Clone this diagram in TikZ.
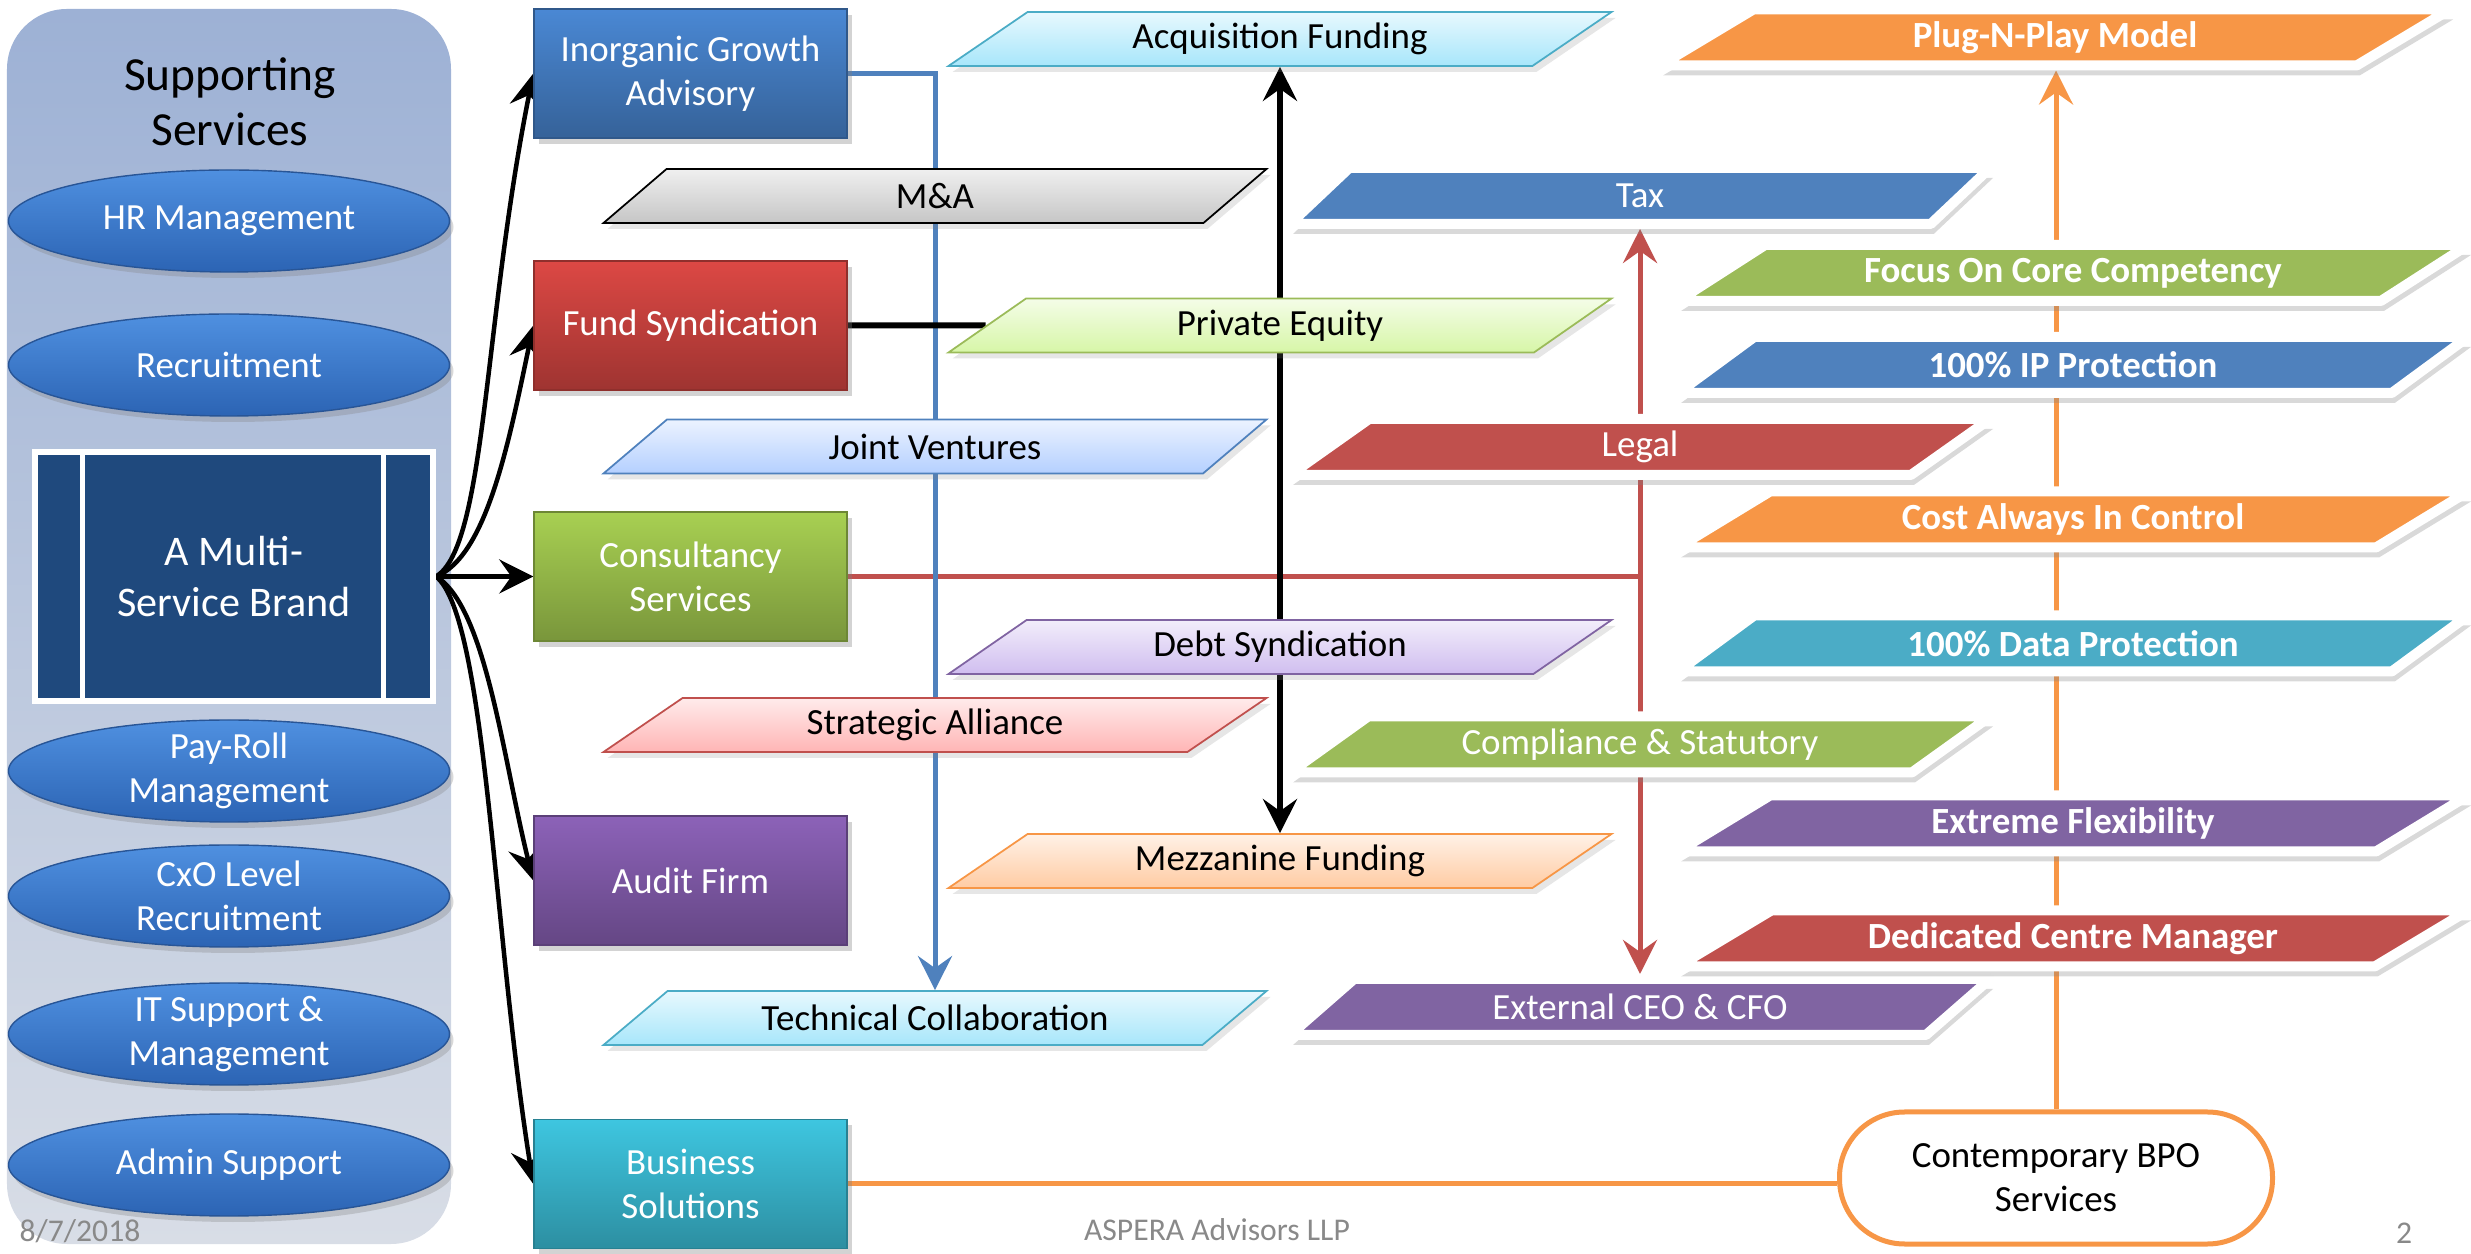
\documentclass[tikz,border=0pt]{standalone}
\usepackage{fontspec}
\setmainfont{Carlito}
\usetikzlibrary{shapes.geometric,shadows,arrows.meta,backgrounds}

\begin{document}
\begin{tikzpicture}[x=1mm, y=-1mm, font=\fontsize{10.5}{12.6}\selectfont,
		>={Stealth[length=3.4mm, width=3.4mm, inset=1.2mm]},
		oval/.style={ellipse, minimum width=44.1mm, minimum height=10.2mm, inner xsep=0pt, inner ysep=-1mm, align=center, text=white, top color=ovalTop, bottom color=ovalBot, draw=ovalLine, line width=0.4pt, drop shadow={opacity=0.3, shadow xshift=0.4mm, shadow yshift=-0.6mm}},
		svcbox/.style={rectangle, minimum width=31.3mm, minimum height=12.9mm, align=center, text=white, top color=#1, bottom color=#1!72!black, draw=#1!65!black, line width=0.4pt, drop shadow={opacity=0.35, shadow xshift=0.5mm, shadow yshift=-0.6mm}},
		lightpara/.style 2 args={trapezium, trapezium left angle=22, trapezium right angle=158, trapezium stretches body, minimum width=66.3mm, minimum height=5.4mm, inner sep=0pt, top color=#1!12!white, bottom color=#1!45!white, draw=#2, line width=0.5pt, drop shadow={opacity=0.2, shadow xshift=0.4mm, shadow yshift=-0.6mm}},
		solidpara/.style={trapezium, trapezium left angle=22, trapezium right angle=158, trapezium stretches body, minimum width=70mm, minimum height=5.6mm, inner sep=0pt, fill=#1, draw=white, line width=1mm, line join=round, text=white, drop shadow={opacity=0.3, shadow xshift=0.3mm, shadow yshift=-1mm}},
		boldpara/.style={solidpara=#1, trapezium left angle=19, trapezium right angle=161, minimum width=79mm, font=\fontsize{10.5}{12.6}\selectfont\bfseries},
		link/.style={draw=#1, line width=0.5mm}]
		
		% Define colors
		
		\definecolor{panelTop}{RGB}{157,177,213}
		\definecolor{panelBot}{RGB}{216,221,230}
		\definecolor{ovalTop}{RGB}{79,144,224}
		\definecolor{ovalBot}{RGB}{44,100,180}
		\definecolor{ovalLine}{RGB}{40,85,150}
		\definecolor{brandNavy}{RGB}{31,73,125}
		\definecolor{igaBlue}{RGB}{74,136,212}
		\definecolor{fundRed}{RGB}{220,72,68}
		\definecolor{consGreen}{RGB}{168,208,82}
		\definecolor{auditPurple}{RGB}{140,98,184}
		\definecolor{bizTeal}{RGB}{62,198,224}
		\definecolor{offBlue}{HTML}{4F81BD}
		\definecolor{offRed}{HTML}{C0504D}
		\definecolor{offGreen}{HTML}{9BBB59}
		\definecolor{offPurple}{HTML}{8064A2}
		\definecolor{offTeal}{HTML}{4BACC6}
		\definecolor{offOrange}{HTML}{F79646}
		\definecolor{jvBase}{RGB}{90,150,255}
		\definecolor{saBase}{RGB}{255,90,90}
		\definecolor{tcBase}{RGB}{60,200,245}
		\definecolor{peBase}{RGB}{165,235,60}
		\definecolor{dsBase}{RGB}{150,110,220}
		\definecolor{mfBase}{RGB}{255,140,50}
		\definecolor{footGray}{RGB}{137,137,137}
		
		\useasboundingbox (0,0) rectangle (247.1,125.4);
		
		% Supporting services panel
		
		\begin{scope}[on background layer]
			\node[rectangle, rounded corners=6mm, minimum width=44.4mm, minimum height=123.5mm, top color=panelTop, bottom color=panelBot] (supp) at (22.9,62.65) {};
		\end{scope}
		
		\node[align=center, font=\fontsize{13.5}{15.5}\selectfont] (supptitle) at (23,10.2) {Supporting\\Services};
		
		\node[oval] (hr) at (22.9,22.1) {HR Management};
		
		\node[oval] (recruit) at (22.9,36.5) {Recruitment};
		
		\node[oval] (payroll) at (22.9,77.1) {Pay-Roll\\Management};
		
		\node[oval] (cxo) at (22.9,89.6) {CxO Level\\Recruitment};
		
		\node[oval] (itsupport) at (22.9,103.4) {IT Support \&\\Management};
		
		\node[oval] (admin) at (22.9,116.5) {Admin Support};
		
		% The brand box with its two inner bars
		
		\node[rectangle, minimum width=39.8mm, minimum height=24.9mm, fill=brandNavy, draw=white, line width=0.6mm, text=white, align=center, font=\fontsize{12}{14.5}\selectfont] (msb) at (23.4,57.65) {A Multi-\\Service Brand};
		
		\draw[white, line width=0.5mm] ([xshift=5.1mm]msb.north west) -- ([xshift=5.1mm]msb.south west);
		
		\draw[white, line width=0.5mm] ([xshift=-5.3mm]msb.north east) -- ([xshift=-5.3mm]msb.south east);
		
		% Service boxes
		
		\node[svcbox=igaBlue] (iga) at (69.05,7.35) {Inorganic Growth\\Advisory};
		
		\node[svcbox=fundRed] (fund) at (69.05,32.55) {Fund Syndication};
		
		\node[svcbox=consGreen] (cons) at (69.05,57.65) {Consultancy\\Services};
		
		\node[svcbox=auditPurple] (audit) at (69.05,88.05) {Audit Firm};
		
		\node[svcbox=bizTeal] (biz) at (69.05,118.4) {Business\\Solutions};
		
		% Advisory and funding options
		
		\node[lightpara={gray}{black}] (ma) at (93.5,19.6) {M\&A};
		
		\node[lightpara={jvBase}{offBlue}] (jv) at (93.5,44.65) {Joint Ventures};
		
		\node[lightpara={saBase}{offRed}] (sa) at (93.5,72.5) {Strategic Alliance};
		
		\node[lightpara={tcBase}{offTeal}] (tc) at (93.5,101.8) {Technical Collaboration};
		
		\node[lightpara={tcBase}{offTeal}] (af) at (128,3.9) {Acquisition Funding};
		
		\node[lightpara={peBase}{offGreen}] (pe) at (128,32.55) {Private Equity};
		
		\node[lightpara={dsBase}{offPurple}] (ds) at (128,64.7) {Debt Syndication};
		
		\node[lightpara={mfBase}{offOrange}] (mf) at (128,86.1) {Mezzanine Funding};
		
		% Consultancy options
		
		\node[solidpara=offBlue] (tax) at (164,19.6) {Tax};
		
		\node[solidpara=offRed] (legal) at (164,44.7) {Legal};
		
		\node[solidpara=offGreen] (comp) at (164,74.45) {Compliance \& Statutory};
		
		\node[solidpara=offPurple] (ext) at (164,100.7) {External CEO \& CFO};
		
		% BPO benefits
		
		\node[boldpara=offOrange] (plug) at (205.5,3.75) {Plug-N-Play Model};
		
		\node[boldpara=offGreen] (focus) at (207.3,27.3) {Focus On Core Competency};
		
		\node[boldpara=offBlue] (ip) at (207.3,36.5) {100\% IP Protection};
		
		\node[boldpara=offOrange] (cost) at (207.3,51.95) {Cost Always In Control};
		
		\node[boldpara=offTeal] (data) at (207.3,64.35) {100\% Data Protection};
		
		\node[boldpara=offPurple] (flex) at (207.3,82.35) {Extreme Flexibility};
		
		\node[boldpara=offRed] (dcm) at (207.3,93.85) {Dedicated Centre Manager};
		
		\node[rectangle, rounded corners=6.5mm, minimum width=43.3mm, minimum height=13.2mm, fill=white, draw=offOrange, line width=0.5mm, align=center] (bpo) at (205.6,117.8) {Contemporary BPO\\Services};
		
		% Footer
		
		\node[text=footGray, font=\fontsize{9}{10}\selectfont] (date) at (8,123.1) {8/7/2018};
		
		\node[text=footGray, font=\fontsize{9}{10}\selectfont] (firm) at (121.7,123) {ASPERA Advisors LLP};
		
		\node[text=footGray, font=\fontsize{9}{10}\selectfont] (pagenum) at (240.4,123.3) {2};
		
		% Connectors behind the shapes
		
		\begin{scope}[on background layer]
			
			\draw[link=black, line width=0.45mm, ->] (msb.east) .. controls +(5,-3) and +(-5,25) .. (iga.west);
			
			\draw[link=black, line width=0.45mm, ->] (msb.east) .. controls +(5,-2) and +(-2.5,12) .. (fund.west);
			
			\draw[link=black, line width=0.45mm, ->] (msb.east) -- (cons.west);
			
			\draw[link=black, line width=0.45mm, ->] (msb.east) .. controls +(5,3) and +(-3,-12) .. (audit.west);
			
			\draw[link=black, line width=0.45mm, ->] (msb.east) .. controls +(5,4) and +(-4,-25) .. (biz.west);
			
			\draw[link=offRed] (cons.east) -- (tax.center |- cons.east);
			
			\draw[link=offRed, <->] (tax.south -| tax.center) -- (ext.north -| tax.center);
			
			\draw[link=offBlue, ->] (iga.east) -| (tc.north -| tc.center);
			
			\draw[link=black, line width=0.6mm] (fund.east) -- (pe.west);
			
			\draw[link=black, line width=0.6mm, <->] (af.south -| af.center) -- (mf.north -| af.center);
			
			\draw[link=offOrange] (biz.east) -- (biz.east -| bpo.west);
			
			\draw[link=offOrange, ->] (bpo.north) -- (bpo.north |- plug.south);
			
		\end{scope}
		
	\end{tikzpicture}
\end{document}
